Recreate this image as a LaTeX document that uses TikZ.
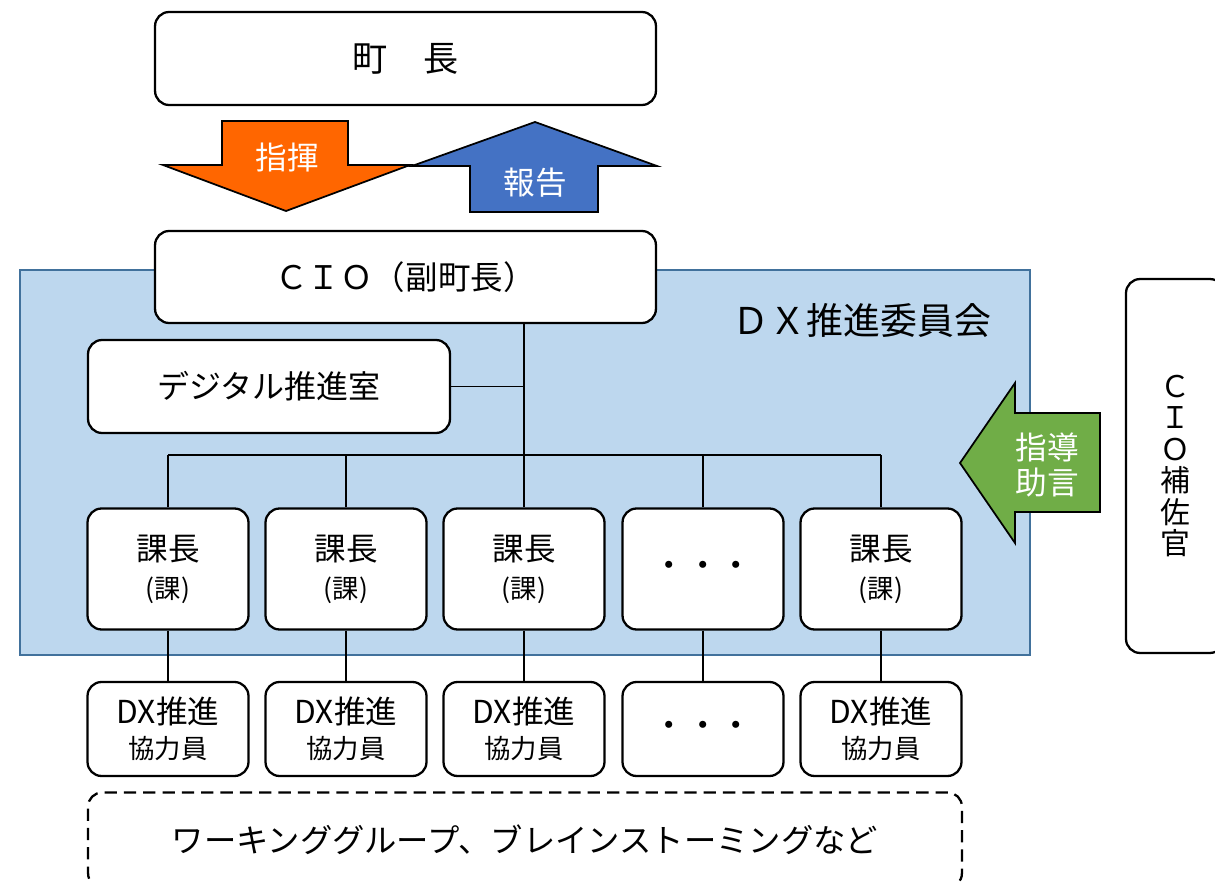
\documentclass[tikz,border=0pt]{standalone}
\usepackage{fontspec}
\setmainfont{Noto Sans CJK JP}
\usetikzlibrary{positioning}

\definecolor{dxfill}{HTML}{BDD7EE}
\definecolor{dxline}{HTML}{41719C}
\definecolor{cmdorange}{HTML}{FF6600}
\definecolor{rptblue}{HTML}{4472C4}
\definecolor{advgreen}{HTML}{70AD47}

\newcommand{\fs}[2][1.2]{\fontsize{#2}{#1\dimexpr#2\relax}\selectfont}

\begin{document}
\begin{tikzpicture}[x=0.02cm, y=-0.02cm,
                    box/.style={draw, line width=1.3pt, rounded corners=8pt, fill=white, inner sep=0pt, align=center},
                    topbox/.style={box, minimum width=10.02cm, minimum height=1.86cm, font=\fs{18.5pt}},
                    kacho/.style={box, minimum width=3.22cm, minimum height=2.42cm, font=\fs{18pt}},
                    staff/.style={box, minimum width=3.22cm, minimum height=1.88cm, font=\fs{18pt}},
                    bigarrow/.style={draw=black, line width=1pt, line join=miter},
                    arrowtext/.style={text=white, font=\fs{18pt}, align=center},
                    link/.style={draw, line width=0.6pt},
                ]
                \useasboundingbox (0,0) rectangle (1215,882);
                %Committee area
                \draw[fill=dxfill, draw=dxline, line width=1.2pt] (20,270) rectangle (1030,655);
                \node[font=\fs{21pt}] (dxcom) at (862,320) {ＤＸ推進委員会};
                %Nodes
                \node[topbox, font=\fs{20pt}] (mayor) at (405.5,58.5) {町　長};
                \node[topbox, minimum height=1.84cm] (cio) at (405.5,277) {ＣＩＯ（副町長）};
                \node[box, minimum width=7.24cm, minimum height=1.86cm, font=\fs{18.2pt}] (room) at (269,386.5) {デジタル推進室};
                \node[kacho] (k1) at (168,569) {課長\\{\fs{15pt}(課)}};
                \node[kacho] (k2) at (346,569) {課長\\{\fs{15pt}(課)}};
                \node[kacho] (k3) at (524,569) {課長\\{\fs{15pt}(課)}};
                \node[kacho, font=\fs{19pt}] (k4) at (703,569) {・・・};
                \node[kacho] (k5) at (881,569) {課長\\{\fs{15pt}(課)}};
                \node[staff] (s1) at (168,729) {DX推進\\[-1.6pt]{\fs{15pt}協力員}};
                \node[staff] (s2) at (346,729) {DX推進\\[-1.6pt]{\fs{15pt}協力員}};
                \node[staff] (s3) at (524,729) {DX推進\\[-1.6pt]{\fs{15pt}協力員}};
                \node[staff, font=\fs{19pt}] (s4) at (703,729) {・・・};
                \node[staff] (s5) at (881,729) {DX推進\\[-1.6pt]{\fs{15pt}協力員}};
                \node[box, dash pattern=on 7pt off 4pt, minimum width=17.48cm, minimum height=1.9cm, font=\fs{18.4pt}] (wg) at (525,840) {ワーキンググループ、ブレインストーミングなど};
                \node[box, minimum width=1.96cm, minimum height=7.48cm, font={\fs[1.05]{17pt}}] (aide) at (1175,466) {Ｃ\\Ｉ\\Ｏ\\補\\佐\\官};
                %Arrows
                \draw[bigarrow, fill=cmdorange] (222,121) -- (348,121) -- (348,165) -- (410,165) -- (286,211) -- (163,165) -- (222,165) -- cycle;
                \draw[bigarrow, fill=rptblue] (535,122) -- (657,166) -- (598,166) -- (598,212) -- (470,212) -- (470,166) -- (412,166) -- cycle;
                \draw[bigarrow, fill=advgreen] (960,463) -- (1015,383) -- (1015,413) -- (1100,413) -- (1100,512) -- (1015,512) -- (1015,543) -- cycle;
                \node[arrowtext] (cmd) at (287,157) {指揮};
                \node[arrowtext] (rpt) at (535,183) {報告};
                \node[arrowtext, font={\fs[1.12]{18pt}}] (adv) at (1047,465) {指導\\助言};
                %Lines
                \coordinate (bus) at (524,455);
                \draw[link] (cio.south -| bus) -- (bus);
                \draw[link] (room.east) -- (room.east -| bus);
                \draw[link] (k1.north |- bus) -- (k5.north |- bus);
                \foreach \i in {1,...,5} {
                    \draw[link] (k\i.north) -- (k\i.north |- bus);
                    \draw[link] (k\i.south) -- (s\i.north);
                }
            \end{tikzpicture}
\end{document}
